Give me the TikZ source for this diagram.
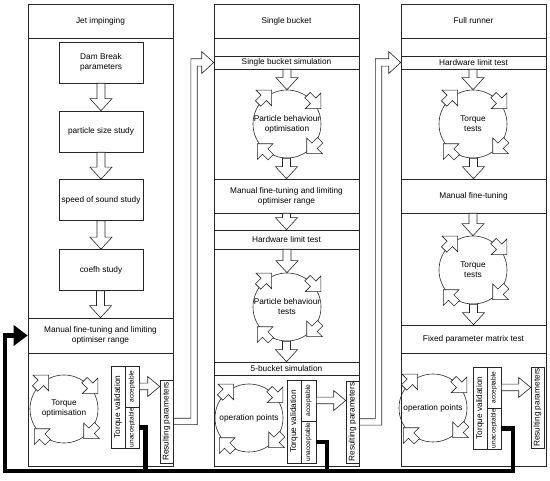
\documentclass[tikz,border=0pt]{standalone}
\usepackage{fontspec}
\setmainfont{Liberation Sans}
\usetikzlibrary{calc,arrows.meta}
\newcommand\ft{\fontsize{8.3}{10}\selectfont}
\newcommand\fsm{\fontsize{6.6}{7}\selectfont}
\tikzset{
  base/.style={draw=black!85, line width=0.6pt},
  colbox/.style={base, rectangle, minimum width=145pt, minimum height=462pt, inner sep=0pt},
  band/.style={base, rectangle, minimum width=145pt, inner sep=0pt, align=center, font=\ft},
  box/.style={base, rectangle, minimum width=84pt, minimum height=41pt, inner sep=0pt, align=center, font=\ft},
  ring/.style={base, circle, minimum size=68pt, inner sep=0pt},
  cell/.style={base, rectangle, inner sep=0pt},
  txt/.style={font=\ft, align=center, inner sep=0pt},
  vtxt/.style={font=\ft, rotate=90, inner sep=0pt},
  vsm/.style={font=\fsm, rotate=90, inner sep=0pt},
  harrow/.style={draw=black!85, line width=0.6pt, fill=white, line join=miter},
  blk/.style={line width=4.5pt, draw=black, line join=miter},
  cyc/.pic={\draw[harrow] (-9pt,-3.8pt) -- (-1pt,-3.8pt) -- (-1pt,-11pt) -- (10pt,0pt) -- (-1pt,11pt) -- (-1pt,3.8pt) -- (-9pt,3.8pt) -- cycle;}
}
\newcommand\bdown[2]{\draw[harrow] let \p1=(#1.south), \p2=(#2.north) in
  (\x2-4pt,\y1) -- (\x2-4pt,\y2+12pt) -- (\x2-11pt,\y2+12pt) -- (\x2,\y2) -- (\x2+11pt,\y2+12pt) -- (\x2+4pt,\y2+12pt) -- (\x2+4pt,\y1) -- cycle;}
\newcommand\bright[2]{\draw[harrow] let \p1=(#1.east), \p2=(#2.west) in
  (\x1,\y1+3.3pt) -- (\x2-12pt,\y1+3.3pt) -- (\x2-12pt,\y1+10pt) -- (\x2,\y1) -- (\x2-12pt,\y1-10pt) -- (\x2-12pt,\y1-3.3pt) -- (\x1,\y1-3.3pt) -- cycle;}
\newcommand\hollowbend[3]{\draw[harrow, fill=none] let \p1=(#1.east), \p2=(#2.west) in
  (\x1,\y1+3.2pt) -- (#3pt-3.2pt,\y1+3.2pt) -- (#3pt-3.2pt,\y2+3.7pt) -- (\x2-12pt,\y2+3.7pt) -- (\x2-12pt,\y2+11pt) -- (\x2,\y2) -- (\x2-12pt,\y2-11pt) -- (\x2-12pt,\y2-3.7pt) -- (#3pt+3.2pt,\y2-3.7pt) -- (#3pt+3.2pt,\y1-3.2pt) -- (\x1,\y1-3.2pt);}
\newcommand\cycarrows[1]{\foreach \a/\r in {130/45,40/-45,-40/-135,-130/135} {\pic[rotate=\r] at ($(#1)+(\a:35pt)$) {cyc};}}
\begin{document}
\begin{tikzpicture}[x=1pt,y=-1pt]
\useasboundingbox (0,0) rectangle (550,481);
% ---------------- Left column
\node[colbox] (colL) at (100.5,235) {};
\node[band, minimum height=34pt] (hL) at (100.5,21) {Jet impinging};
\node[box] (dam) at (101,62.5) {Dam Break\\parameters};
\node[box] (psz) at (101,131.5) {particle size study};
\node[box] (sos) at (101,200) {speed of sound study};
\node[box] (coe) at (101,270) {coefh study};
\node[band, minimum height=35pt] (manL) at (100.5,335.5) {Manual fine-tuning and limiting\\optimiser range};
\node[ring] (cL) at (64,409) {};
\node[txt] at (cL) {Torque\\optimisation};
\node[cell, minimum width=14pt, minimum height=82pt] (tvL) at (118,407) {};
\node[vtxt] at (tvL) {Torque validation};
\node[cell, minimum width=14pt, minimum height=41pt] (accL) at (132,386.5) {};
\node[vsm] at (accL) {acceptable};
\node[cell, minimum width=14pt, minimum height=41pt] (unaL) at (132,427.5) {};
\node[vsm] at (unaL) {unacceptable};
\node[cell, minimum width=13pt, minimum height=83pt] (resL) at (166.5,421.5) {};
\node[vtxt] at (resL) {Resulting parameters};
% ---------------- Middle column
\node[colbox] (colM) at (286.5,235) {};
\node[band, minimum height=34pt] (hM) at (286.5,21) {Single bucket};
\node[band, minimum height=18pt] (bM) at (286.5,47) {};
\node[band, minimum height=13pt] (sbs) at (286.5,62.5) {Single bucket simulation};
\node[ring] (c1) at (287,124) {};
\node[txt] at (c1) {Particle behaviour\\optimisation};
\node[band, minimum height=34pt] (manM) at (286.5,196) {Manual fine-tuning and limiting\\optimiser range};
\node[band, minimum height=19pt] (hltM) at (286.5,239.5) {Hardware limit test};
\node[ring] (c2) at (287,307) {};
\node[txt] at (c2) {Particle behaviour\\tests};
\node[band, minimum height=13pt] (fbs) at (286.5,368.5) {5-bucket simulation};
\node[ring] (opM) at (249,418) {};
\node[txt] at (opM) {operation points};
\node[cell, minimum width=14pt, minimum height=83pt] (tvM) at (294,421.5) {};
\node[vtxt] at (tvM) {Torque validation};
\node[cell, minimum width=15pt, minimum height=41pt] (accM) at (308.5,400.5) {};
\node[vsm] at (accM) {acceptable};
\node[cell, minimum width=15pt, minimum height=42pt] (unaM) at (308.5,442) {};
\node[vsm] at (unaM) {unacceptable};
\node[cell, minimum width=13pt, minimum height=82pt] (resM) at (352.5,422) {};
\node[vtxt] at (resM) {Resulting parameters};
% ---------------- Right column
\node[colbox] (colR) at (473.5,235) {};
\node[band, minimum height=34pt] (hR) at (473.5,21) {Full runner};
\node[band, minimum height=18pt] (bR) at (473.5,47) {};
\node[band, minimum height=13pt] (hltR) at (473.5,62.5) {Hardware limit test};
\node[ring] (c3) at (473,124) {};
\node[txt] at (c3) {Torque\\tests};
\node[band, minimum height=34pt] (manR) at (473.5,196) {Manual fine-tuning};
\node[ring] (c4) at (473,270) {};
\node[txt] at (c4) {Torque\\tests};
\node[band, minimum height=28pt] (fpm) at (473.5,339) {Fixed parameter matrix test};
\node[ring] (opR) at (433,408) {};
\node[txt] at (opR) {operation points};
\node[cell, minimum width=14pt, minimum height=82pt] (tvR) at (480,408) {};
\node[vtxt] at (tvR) {Torque validation};
\node[cell, minimum width=14pt, minimum height=41pt] (accR) at (494,387.5) {};
\node[vsm] at (accR) {acceptable};
\node[cell, minimum width=14pt, minimum height=41pt] (unaR) at (494,428.5) {};
\node[vsm] at (unaR) {unacceptable};
\node[cell, minimum width=13pt, minimum height=81pt] (resR) at (537.5,407.5) {};
\node[vtxt] at (resR) {Resulting parameters};
% ---------------- cycle arrows
\cycarrows{cL}\cycarrows{c1}\cycarrows{c2}\cycarrows{opM}\cycarrows{c3}\cycarrows{c4}\cycarrows{opR}
% ---------------- block arrows
\bdown{dam}{psz}\bdown{psz}{sos}\bdown{sos}{coe}\bdown{coe}{manL}
\bdown{sbs}{c1}\bdown{c1}{manM}\bdown{manM}{hltM}\bdown{hltM}{c2}\bdown{c2}{fbs}
\bdown{hltR}{c3}\bdown{c3}{manR}\bdown{manR}{c4}\bdown{c4}{fpm}
\bright{accL}{resL}\bright{accM}{resM}\bright{accR}{resR}
\hollowbend{resL}{sbs}{194}
\hollowbend{resM}{hltR}{378.5}
% ---------------- feedback (black)
\coordinate (bL) at (145.5,471);
\coordinate (bM) at (327,471);
\coordinate (bRr) at (513,471);
\coordinate (cBL) at (5,471);
\coordinate (cTL) at (5,335.5);
\draw[blk] (unaL.east) -| (bL);
\draw[blk] (unaM.east) -| (bM);
\draw[blk, -{Triangle[length=14pt,width=20pt]}] (unaR.east) -| (bRr) -- (cBL) -- (cTL) -- (manL.west);
\end{tikzpicture}
\end{document}
